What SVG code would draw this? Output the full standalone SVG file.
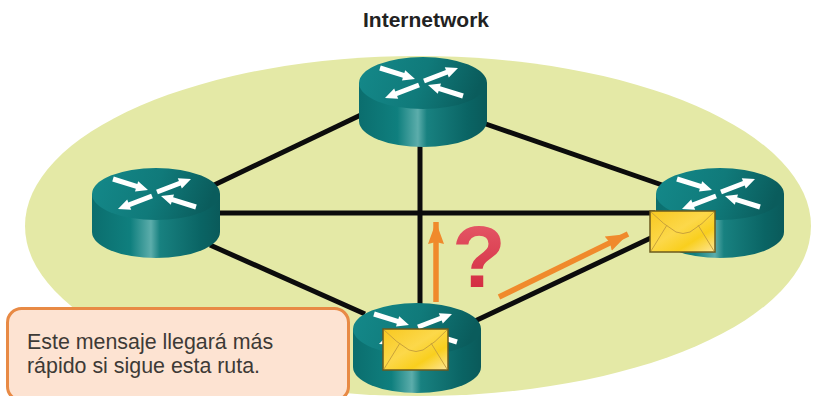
<svg xmlns="http://www.w3.org/2000/svg" width="838" height="396" viewBox="0 0 838 396">
<style>
.t{font-family:"Liberation Sans",Arial,sans-serif}
.title{font-size:21px;font-weight:700;fill:#222}
.msg{font-size:21.4px;fill:#3d3a36}
.link{stroke:#0c0c0c;stroke-width:5;fill:none;stroke-linecap:butt}
.orange{stroke:#f08a2c;stroke-width:5.5;fill:none}
.wa{fill:#fff;stroke:none}
.envline{fill:none;stroke:#c9a23a;stroke-width:1}
</style>
<defs>
<linearGradient id="body" x1="0" x2="1" y1="0" y2="0">
<stop offset="0" stop-color="#0b6e6e"/><stop offset=".3" stop-color="#0f7f7e"/><stop offset=".46" stop-color="#5cadab"/><stop offset=".53" stop-color="#188180"/><stop offset=".85" stop-color="#0a6464"/><stop offset="1" stop-color="#0a5a5a"/>
</linearGradient>
<linearGradient id="top" x1="0" x2="1" y1="0" y2=".15">
<stop offset="0" stop-color="#14898a"/><stop offset=".55" stop-color="#107a7a"/><stop offset="1" stop-color="#0a5c5c"/>
</linearGradient>
<linearGradient id="env" x1="0" x2="1" y1="0" y2="1">
<stop offset="0" stop-color="#f8c820"/><stop offset=".45" stop-color="#fcd84a"/><stop offset=".7" stop-color="#f9cf1e"/><stop offset="1" stop-color="#fde69a"/>
</linearGradient>
<linearGradient id="q" x1="0" x2="0" y1="0" y2="1">
<stop offset="0" stop-color="#e8606e"/><stop offset="1" stop-color="#cf2238"/>
</linearGradient>
<marker id="ah" markerUnits="userSpaceOnUse" markerWidth="24" markerHeight="18" refX="22" refY="9" orient="auto">
<path d="M0 1L22 9L0 17L2 9Z" fill="#f08a2c"/>
</marker>
<g id="router">
<path d="M-64 0V38A64 26 0 0 0 64 38V0Z" fill="url(#body)"/>
<ellipse cx="0" cy="0" rx="64" ry="26" fill="url(#top)"/>
<g class="wa">
<path id="ai" d="M-42.25-17.4L-18.65-10L-17.8-12.8L-8-4L-21-2.4L-20.15-5.2L-43.75-12.6Z"/>
<path id="ao" d="M.1-4.3L22.9-13L21.8-15.8L35-15L25.8-5.6L24.7-8.4L1.9.3Z"/>
<path d="M42.25 17.4L18.65 10L17.8 12.8L8 4L21 2.4L20.15 5.2L43.75 12.6Z" transform="translate(-3 -2)"/>
<path d="M-.1 4.3L-22.9 13L-21.8 15.8L-35 15L-25.8 5.6L-24.7 8.4L-1.9-.3Z" transform="translate(-3 0)"/>
</g>
</g>
<g id="envelope">
<rect x="0" y="0" width="65" height="41" fill="url(#env)" stroke="#6b5a1e" stroke-width="1.5"/>
<path class="envline" d="M1 1Q14 14 26 21Q33 24 40 21Q52 14 64 1M1 40L17 14M64 40L48 14"/>
</g>
</defs>
<rect width="838" height="396" fill="#fff"/>
<ellipse cx="418" cy="226" rx="393" ry="170" fill="#e4e9a6"/>
<text class="t title" x="426" y="27" text-anchor="middle">Internetwork</text>
<g id="connectors">
<path class="link" d="M210 187L365 113"/>
<path class="link" d="M480 122L665 186"/>
<path class="link" d="M215 213H655"/>
<path class="link" d="M420 140V310"/>
<path class="link" d="M210 245L365 314"/>
<path class="link" d="M475 321L655 236"/>
<path class="orange" d="M436 302V222" marker-end="url(#ah)"/>
<path class="orange" d="M499 297L628 234" marker-end="url(#ah)"/>
</g>
<g id="router-top"><use href="#router" x="423" y="83"/></g>
<g id="router-left"><use href="#router" x="156" y="194"/></g>
<g id="router-right"><use href="#router" x="720" y="194"/></g>
<g id="router-bottom"><use href="#router" x="417" y="329"/></g>
<g id="envelope-right"><use href="#envelope" x="650" y="211"/></g>
<g id="envelope-bottom"><use href="#envelope" x="383" y="329"/></g>
<text class="t" x="479" y="287" font-size="88" font-weight="700" fill="url(#q)" text-anchor="middle">?</text>
<g id="callout">
<rect x="7.5" y="308.5" width="341" height="92" rx="14" fill="#fde3d2" stroke="#e88a45" stroke-width="3"/>
<text class="t msg" x="27" y="349">Este mensaje llegará más</text>
<text class="t msg" x="27" y="373">rápido si sigue esta ruta.</text>
</g>
</svg>
